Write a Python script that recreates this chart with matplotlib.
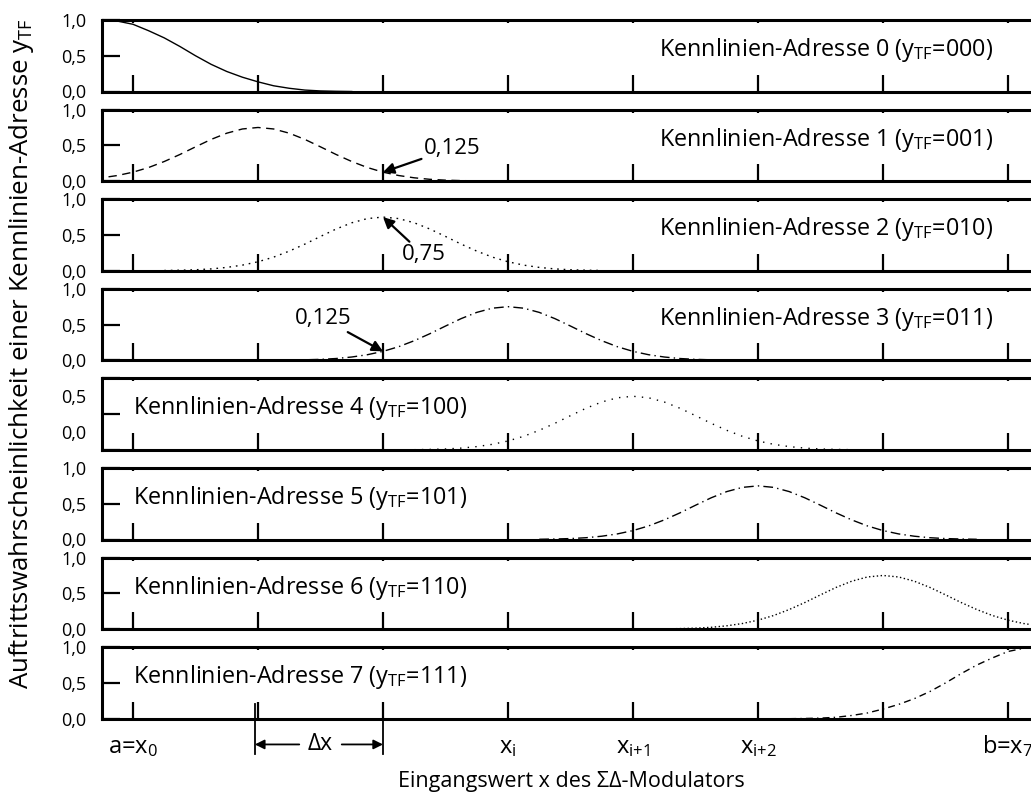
import numpy as np
import matplotlib
matplotlib.use("Agg")
import matplotlib.pyplot as plt
from matplotlib.transforms import blended_transform_factory

plt.rcParams['font.family'] = ['Open Sans', 'DejaVu Sans']
plt.rcParams['mathtext.fontset'] = 'custom'
plt.rcParams['mathtext.rm'] = 'Open Sans'
plt.rcParams['mathtext.it'] = 'Open Sans:italic'
plt.rcParams['mathtext.default'] = 'regular'

# grid points x0 .. x7 (in units of Δx)
grid_pos = [0, 1, 2, 3, 4, 5, 6, 7]
grid_labels = ['a=x$_0$', '', '', 'x$_i$', 'x$_{i{+}1}$', 'x$_{i{+}2}$', '', 'b=x$_7$']
codes = ['000', '001', '010', '011', '100', '101', '110', '111']

# probability profile of an inner address around its centre
bump_offset = np.arange(-1.75, 1.76, 0.125)
bump_values = [0.003, 0.007, 0.013, 0.025, 0.046, 0.078, 0.125, 0.19, 0.274,
               0.372, 0.479, 0.583, 0.67, 0.729, 0.75, 0.729, 0.67, 0.583,
               0.479, 0.372, 0.274, 0.19, 0.125, 0.078, 0.046, 0.025, 0.013,
               0.007, 0.003]

# profile of the outer addresses (0 at a, 7 mirrored at b)
edge_offset = np.arange(-0.25, 1.76, 0.125)
edge_values = [1.0, 0.985, 0.94, 0.85, 0.75, 0.63, 0.5, 0.38, 0.28, 0.2,
               0.135, 0.08, 0.045, 0.02, 0.008, 0.003, 0.0]

styles = ['-', (0, (6, 4)), (0, (1.2, 3.5)), (0, (7, 3, 1, 3)),
          (0, (1, 4.5)), (0, (7, 3, 1, 3)), (0, (1, 1.8)), (0, (5, 3, 1, 3))]

W, H = 1031, 796
fig = plt.figure(figsize=(W / 100, H / 100), dpi=100)

left_px = 102
x_min, x_max = -0.248, 7.6
dx_px = 125
ax_w = (x_max - x_min) * dx_px / W
panel_top = 20
panel_step = 89.6
panel_h = 71.5
label_size = 16.8

axes = []
for i in range(8):
    top = panel_top + i * panel_step
    ax = fig.add_axes([left_px / W, 1 - (top + panel_h) / H, ax_w, panel_h / H])
    ax.set_xlim(x_min, x_max)
    ax.set_ylim(0, 1)
    for s in ['left', 'bottom', 'top']:
        ax.spines[s].set_linewidth(2.2)
    ax.spines['right'].set_visible(False)

    if i == 0:
        xs, ys = edge_offset, edge_values
    elif i == 7:
        xs, ys = 7 - edge_offset, edge_values
    else:
        xs, ys = i + bump_offset, bump_values
    ax.plot(xs, ys, color='black', lw=1.0, linestyle=styles[i])

    ax.set_xticks(grid_pos)
    ax.set_xticklabels([])
    ax.tick_params(axis='x', direction='in', length=12, width=1.6,
                   top=True, bottom=True)
    for t in ax.xaxis.get_major_ticks():
        t.tick2line.set_markersize(2)

    ax.set_yticks([0, 0.5, 1.0])
    if i == 4:
        ax.set_yticklabels([])
        ax.set_yticks([0.25, 0.75], minor=True)
        ax.set_yticklabels(['0,0', '0,5'], minor=True)
        ax.tick_params(axis='y', which='minor', length=0, labelsize=13, pad=11)
    else:
        ax.set_yticklabels(['0,0', '0,5', '1,0'])
    ax.tick_params(axis='y', direction='in', length=13, width=1.6,
                   labelsize=13, pad=11)

    label = 'Kennlinien-Adresse %d (y$_{TF}$=%s)' % (i, codes[i])
    tr = blended_transform_factory(ax.transData, ax.transAxes)
    if i < 4:
        ax.text(6.88, 0.58, label, fontsize=label_size, ha='right', va='center',
                transform=tr)
    else:
        ax.text(0.0, 0.58, label, fontsize=label_size, ha='left', va='center',
                transform=tr)
    axes.append(ax)

# value annotations
arrow = dict(arrowstyle='-|>', color='black', lw=1.6, mutation_scale=16,
             shrinkA=0, shrinkB=0)
axes[1].annotate('0,125', xy=(2, 0.125), xytext=(2.33, 0.46), fontsize=16,
                 ha='left', va='center', arrowprops=arrow)
axes[2].annotate('0,75', xy=(2, 0.75), xytext=(2.15, 0.22), fontsize=16,
                 ha='left', va='center', arrowprops=arrow)
axes[3].annotate('0,125', xy=(2, 0.125), xytext=(1.75, 0.58), fontsize=16,
                 ha='right', va='center', arrowprops=arrow)

# grid labels under the last panel
ax7 = axes[7]
bt = blended_transform_factory(ax7.transData, ax7.transAxes)
for xp, lab in zip(grid_pos, grid_labels):
    if lab:
        ax7.text(xp, -0.475, lab, fontsize=17, ha='center', va='baseline',
                 transform=bt)

# Δx marker between x1 and x2
for xp in [0.975, 2.0]:
    ax7.plot([xp, xp], [0.2, -0.5], color='black', lw=1.3, transform=bt,
             clip_on=False)
ax7.text(1.5, -0.36, 'Δx', fontsize=16.5, ha='center', va='center', transform=bt)
arrow2 = dict(arrowstyle='-|>', color='black', lw=1.3, mutation_scale=14,
              shrinkA=0, shrinkB=0)
ax7.annotate('', xy=(0.975, -0.36), xytext=(1.33, -0.36), xycoords=bt,
             textcoords=bt, arrowprops=arrow2)
ax7.annotate('', xy=(2.0, -0.36), xytext=(1.67, -0.36), xycoords=bt,
             textcoords=bt, arrowprops=arrow2)

fig.text(571 / W, 1 - 782 / H, 'Eingangswert x des ΣΔ-Modulators',
         fontsize=15.5, ha='center', va='center')
fig.text(22 / W, 1 - 354 / H,
         'Auftrittswahrscheinlichkeit einer Kennlinien-Adresse y$_{TF}$',
         fontsize=18.6, rotation=90, ha='center', va='center')

fig.savefig('out.png', dpi=100)
